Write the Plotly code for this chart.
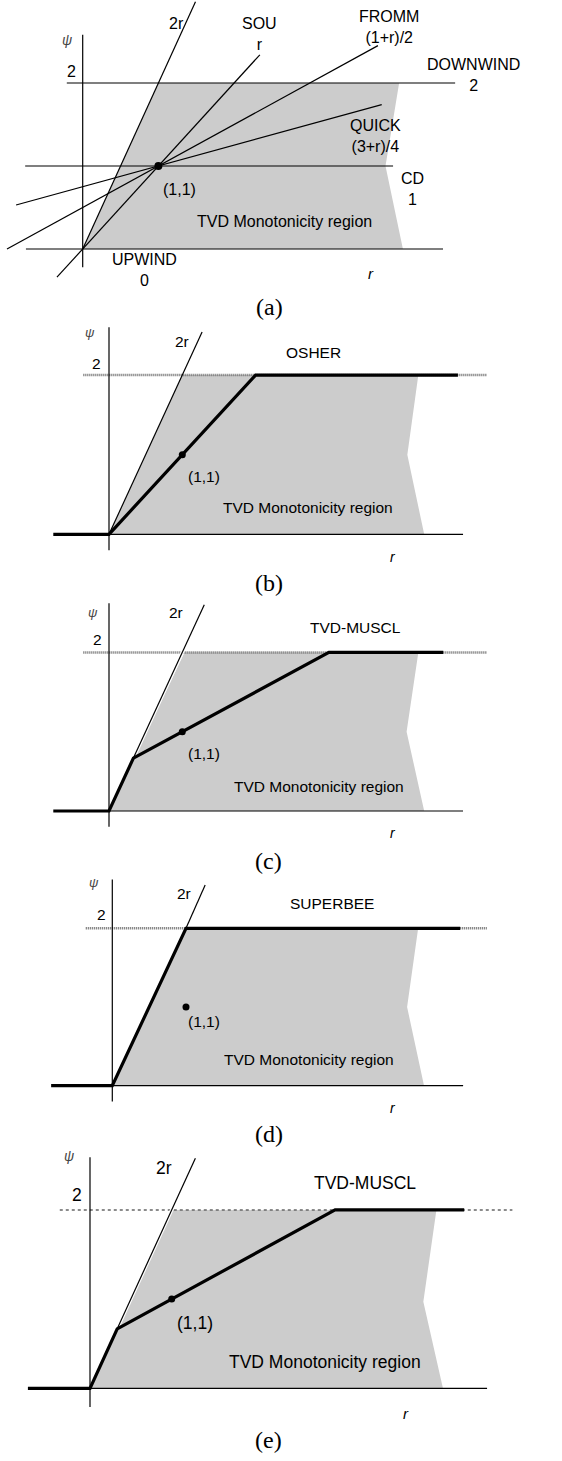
import plotly.graph_objects as go

# ---------------- data ----------------
# Panel (a): flux-limiter reference lines psi(r)
A_UPWIND_R = [-0.75, 4.76]
A_UPWIND_PSI = [0, 0]
A_CD_R = [-0.76, 4.10]
A_CD_PSI = [1, 1]
A_DOWNWIND_R = [-0.21, 4.92]
A_DOWNWIND_PSI = [2, 2]
A_2R_R = [0, 1.49]
A_2R_PSI = [0, 2.98]
A_SOU_R = [-0.34, 2.34]
A_SOU_PSI = [-0.34, 2.34]
A_FROMM_R = [-1.0, 3.9]
A_FROMM_PSI = [0, 2.45]
A_QUICK_R = [-0.88, 3.95]
A_QUICK_PSI = [0.53, 1.74]
A_AXIS_PSI = [-0.22, 2.58]
A_REGION_R = [0, 1, 4.18, 4.0, 4.23]
A_REGION_PSI = [0, 2, 2, 1, 0]

# Panel (b): OSHER
B_BASE_R = [0, 4.83]
B_LIMIT2_R = [-0.35, 5.16]
B_2R_R = [0, 1.27]
B_2R_PSI = [0, 2.54]
B_AXIS_PSI = [-0.2, 2.6]
B_OSHER_R = [-0.76, 0, 2, 4.76]
B_OSHER_PSI = [0, 0, 2, 2]
B_REGION_R = [0, 1, 4.22, 4.07, 4.3]
B_REGION_PSI = [0, 2, 2, 1, 0]

# Panel (c): TVD-MUSCL
C_BASE_R = [0, 4.83]
C_LIMIT2_R = [-0.35, 5.16]
C_2R_R = [0.333, 1.3]
C_2R_PSI = [0.667, 2.6]
C_AXIS_PSI = [-0.2, 2.62]
C_MUSCL_R = [-0.76, 0, 0.333, 3, 4.56]
C_MUSCL_PSI = [0, 0, 0.667, 2, 2]
C_REGION_R = [0, 1.03, 4.22, 4.06, 4.3]
C_REGION_PSI = [0, 2, 2, 1, 0]

# Panel (d): SUPERBEE
D_BASE_R = [0, 4.76]
D_LIMIT2_R = [-0.36, 5.08]
D_2R_R = [1, 1.26]
D_2R_PSI = [2, 2.55]
D_AXIS_PSI = [-0.2, 2.62]
D_SUPERBEE_R = [-0.83, 0, 1, 4.72]
D_SUPERBEE_PSI = [0, 0, 2, 2]
D_REGION_R = [0, 1, 4.15, 4.0, 4.23]
D_REGION_PSI = [0, 2, 2, 1, 0]

# Panel (e): TVD-MUSCL
E_BASE_R = [0, 4.86]
E_LIMIT2_R = [-0.37, 5.17]
E_2R_R = [0.333, 1.29]
E_2R_PSI = [0.667, 2.58]
E_AXIS_PSI = [-0.21, 2.59]
E_MUSCL_R = [-0.76, 0, 0.333, 3, 4.58]
E_MUSCL_PSI = [0, 0, 0.667, 2, 2]
E_REGION_R = [0, 1.0, 4.24, 4.08, 4.32]
E_REGION_PSI = [0, 2, 2, 0.97, 0]

POINT_R = [1]
POINT_PSI = [1]

# ---------------- layout calibration ----------------
W, H = 562, 1461
# (origin px x, origin px y, px per unit r, px per unit psi, band top, band bottom)
PANELS = [
    (82.7, 249.0, 75.7, 83.0, 0, 318),
    (109.0, 534.3, 73.3, 79.6, 318, 598),
    (109.0, 811.0, 73.3, 79.3, 598, 873),
    (112.3, 1085.7, 73.7, 78.7, 873, 1145),
    (90.0, 1388.3, 81.7, 89.2, 1145, 1461),
]

SANS = "Liberation Sans, Arial, sans-serif"
SERIF = "Liberation Serif, Times New Roman, serif"
FILL = "#cccccc"

fig = go.Figure()


def axn(i):
    return ("x" if i == 1 else f"x{i}"), ("y" if i == 1 else f"y{i}")


def line(i, rs, ps, width=1.2, color="black", dash=None):
    xa, ya = axn(i)
    fig.add_trace(go.Scatter(x=rs, y=ps, mode="lines", xaxis=xa, yaxis=ya,
                             line=dict(color=color, width=width, dash=dash),
                             hoverinfo="skip", showlegend=False))


def region(i, rs, ps):
    xa, ya = axn(i)
    fig.add_trace(go.Scatter(x=rs, y=ps, mode="lines", fill="toself",
                             fillcolor=FILL, line=dict(width=0, color=FILL),
                             xaxis=xa, yaxis=ya, hoverinfo="skip", showlegend=False))


def dot(i, size):
    xa, ya = axn(i)
    fig.add_trace(go.Scatter(x=POINT_R, y=POINT_PSI, mode="markers", xaxis=xa, yaxis=ya,
                             marker=dict(color="black", size=size),
                             hoverinfo="skip", showlegend=False))


def text(i, r, p, s, size=15.5, family=SANS, color="black"):
    xa, ya = axn(i)
    fig.add_annotation(x=r, y=p, xref=xa, yref=ya, text=s, showarrow=False,
                       xanchor="center", yanchor="middle",
                       font=dict(family=family, size=size, color=color))


# ---------------- axes ----------------
for k, (ox, oy, sx, sy, top, bot) in enumerate(PANELS, start=1):
    xkey = "xaxis" if k == 1 else f"xaxis{k}"
    ykey = "yaxis" if k == 1 else f"yaxis{k}"
    fig.update_layout(**{
        xkey: dict(domain=[0, 1], range=[-ox / sx, (W - ox) / sx], visible=False,
                   anchor=axn(k)[1], fixedrange=True),
        ykey: dict(domain=[1 - bot / H, 1 - top / H],
                   range=[(oy - bot) / sy, (oy - top) / sy], visible=False,
                   anchor=axn(k)[0], fixedrange=True),
    })

# ---------------- panel (a) ----------------
region(1, A_REGION_R, A_REGION_PSI)
line(1, A_UPWIND_R, A_UPWIND_PSI)
line(1, A_CD_R, A_CD_PSI)
line(1, A_DOWNWIND_R, A_DOWNWIND_PSI)
line(1, [0, 0], A_AXIS_PSI)
line(1, A_2R_R, A_2R_PSI)
line(1, A_SOU_R, A_SOU_PSI)
line(1, A_FROMM_R, A_FROMM_PSI)
line(1, A_QUICK_R, A_QUICK_PSI)
dot(1, 8)
fs = 16
text(1, -0.21, 2.52, "<i>ψ</i>", 14, color="#444")
text(1, -0.15, 2.14, "2", fs)
text(1, 1.24, 2.72, "2r", fs)
text(1, 2.34, 2.59, "SOU<br>r", fs)
text(1, 4.04, 2.67, "FROMM<br>(1+r)/2", fs)
text(1, 5.16, 2.10, "DOWNWIND<br>2", fs)
text(1, 3.87, 1.36, "QUICK<br>(3+r)/4", fs)
text(1, 1.28, 0.72, "(1,1)", fs)
text(1, 4.35, 0.72, "CD<br>1", fs)
text(1, 2.67, 0.33, "TVD Monotonicity region", fs)
text(1, 0.81, -0.25, "UPWIND<br>0", fs)
text(1, 3.81, -0.29, "<i>r</i>", 15)
text(1, 2.47, -0.70, "(a)", 24, SERIF)


def limiter_panel(i, base_r, lim2_r, r2_r, r2_psi, axis_psi, lim_r, lim_psi,
                  reg_r, reg_psi, halo, lim2_width=2.5, lim2_dash="1px,1px"):
    region(i, reg_r, reg_psi)
    line(i, base_r, [0, 0])
    line(i, lim2_r, [2, 2], width=lim2_width, color="#666666", dash=lim2_dash)
    line(i, [0, 0], axis_psi)
    if halo:
        line(i, r2_r, r2_psi, width=3.5, color="white")
    line(i, r2_r, r2_psi, width=1.2)
    line(i, lim_r, lim_psi, width=3.2)
    dot(i, 7)


# ---------------- panel (b) ----------------
limiter_panel(2, B_BASE_R, B_LIMIT2_R, B_2R_R, B_2R_PSI, B_AXIS_PSI,
              B_OSHER_R, B_OSHER_PSI, B_REGION_R, B_REGION_PSI, False)
fs = 15.5
text(2, -0.26, 2.53, "<i>ψ</i>", 13, color="#444")
text(2, -0.17, 2.15, "2", fs)
text(2, 0.99, 2.42, "2r", fs)
text(2, 2.79, 2.29, "OSHER", fs)
text(2, 1.30, 0.72, "(1,1)", fs)
text(2, 2.71, 0.34, "TVD Monotonicity region", fs)
text(2, 3.87, -0.29, "<i>r</i>", 14)
text(2, 2.18, -0.61, "(b)", 24, SERIF)

# ---------------- panel (c) ----------------
limiter_panel(3, C_BASE_R, C_LIMIT2_R, C_2R_R, C_2R_PSI, C_AXIS_PSI,
              C_MUSCL_R, C_MUSCL_PSI, C_REGION_R, C_REGION_PSI, True)
text(3, -0.22, 2.5, "<i>ψ</i>", 13, color="#444")
text(3, -0.16, 2.16, "2", fs)
text(3, 0.91, 2.5, "2r", fs)
text(3, 3.36, 2.32, "TVD-MUSCL", fs)
text(3, 1.30, 0.72, "(1,1)", fs)
text(3, 2.87, 0.31, "TVD Monotonicity region", fs)
text(3, 3.87, -0.28, "<i>r</i>", 14)
text(3, 2.18, -0.63, "(c)", 24, SERIF)

# ---------------- panel (d) ----------------
limiter_panel(4, D_BASE_R, D_LIMIT2_R, D_2R_R, D_2R_PSI, D_AXIS_PSI,
              D_SUPERBEE_R, D_SUPERBEE_PSI, D_REGION_R, D_REGION_PSI, False)
text(4, -0.25, 2.58, "<i>ψ</i>", 13, color="#444")
text(4, -0.15, 2.17, "2", fs)
text(4, 0.97, 2.44, "2r", fs)
text(4, 2.98, 2.32, "SUPERBEE", fs)
text(4, 1.24, 0.81, "(1,1)", fs)
text(4, 2.67, 0.33, "TVD Monotonicity region", fs)
text(4, 3.81, -0.28, "<i>r</i>", 14)
text(4, 2.13, -0.62, "(d)", 24, SERIF)

# ---------------- panel (e) ----------------
limiter_panel(5, E_BASE_R, E_LIMIT2_R, E_2R_R, E_2R_PSI, E_AXIS_PSI,
              E_MUSCL_R, E_MUSCL_PSI, E_REGION_R, E_REGION_PSI, True,
              lim2_width=1.5, lim2_dash="dot")
fs = 17.5
text(5, -0.26, 2.6, "<i>ψ</i>", 14, color="#444")
text(5, -0.16, 2.17, "2", fs)
text(5, 0.91, 2.47, "2r", fs)
text(5, 3.37, 2.30, "TVD-MUSCL", fs)
text(5, 1.29, 0.73, "(1,1)", fs)
text(5, 2.88, 0.30, "TVD Monotonicity region", fs)
text(5, 3.87, -0.28, "<i>r</i>", 15)
text(5, 2.19, -0.58, "(e)", 24, SERIF)

fig.update_layout(width=W, height=H, margin=dict(l=0, r=0, t=0, b=0),
                  paper_bgcolor="white", plot_bgcolor="white", showlegend=False)

fig.write_html("out.html", config={"displayModeBar": False},
               post_script="document.body.style.margin='0px';document.body.style.padding='0px';")
